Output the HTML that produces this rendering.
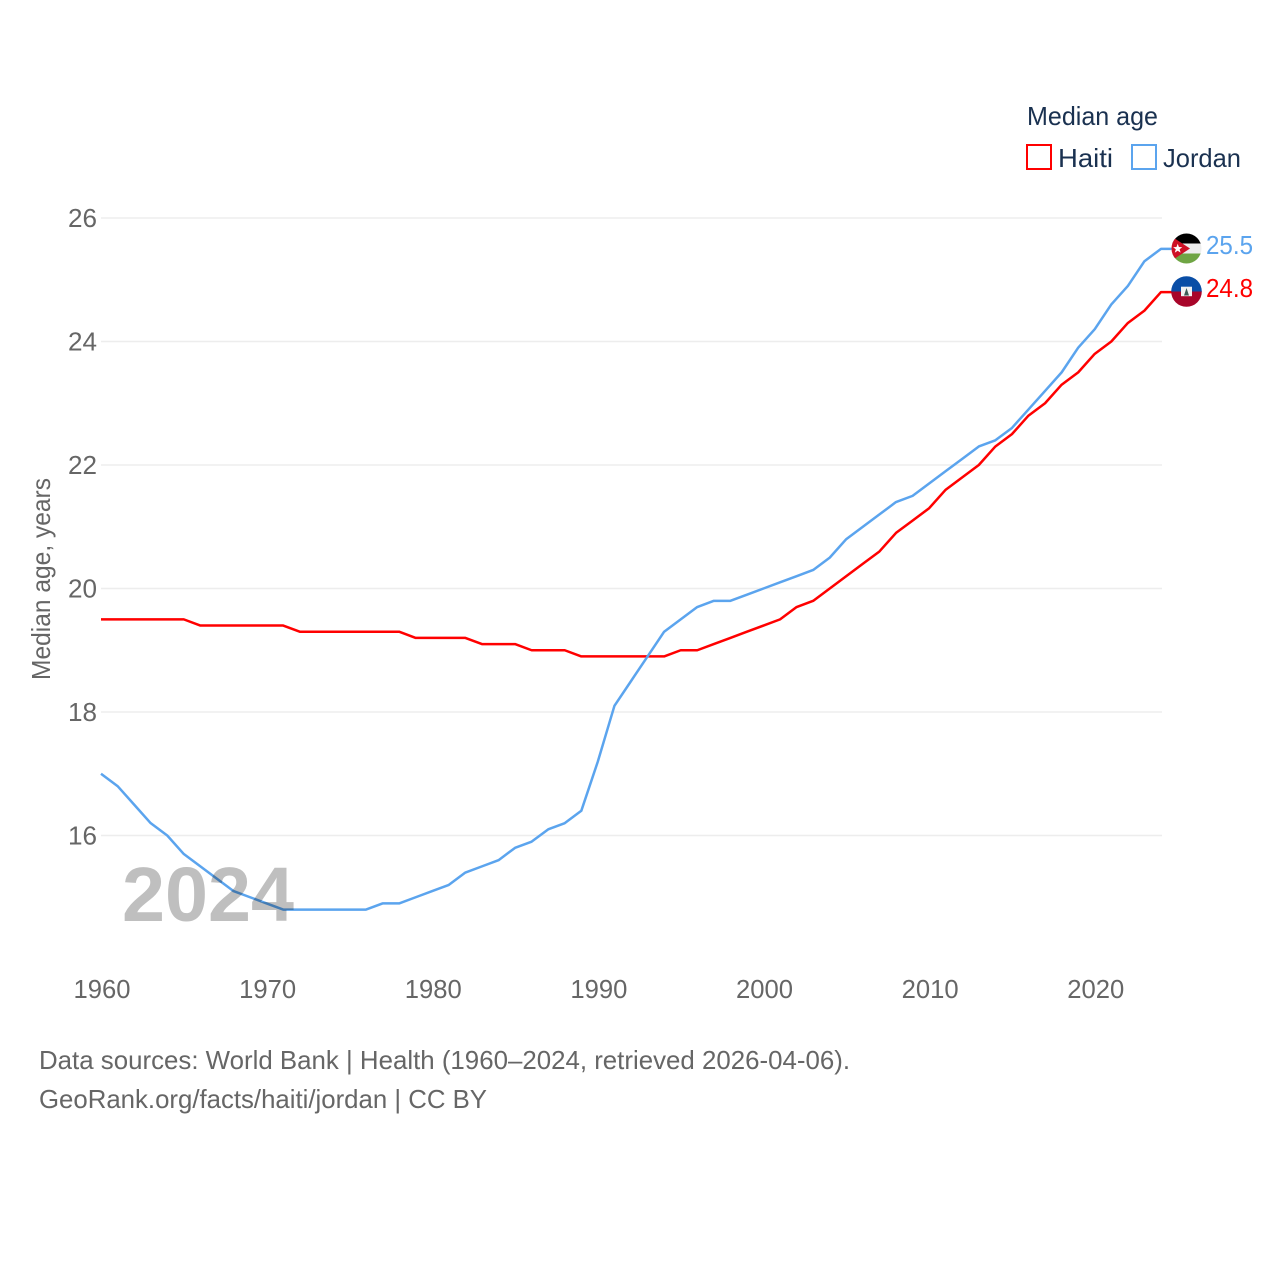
<!DOCTYPE html>
<html lang="en">
<head>
<meta charset="utf-8">
<title>Median age: Haiti and Jordan</title>
<style>
html,body{margin:0;padding:0;background:#fff;width:1280px;height:1280px;overflow:hidden}
svg{display:block}
text{font-family:"Liberation Sans",sans-serif}
.tick{font-size:26px;fill:#666}
.foot{font-size:26px;fill:#666}
.leg{font-size:26px;fill:#1a3150}
</style>
</head>
<body>
<svg id="chart" xmlns="http://www.w3.org/2000/svg" width="1280" height="1280" viewBox="0 0 1280 1280">
  <defs>
    <clipPath id="clip-jordan"><circle cx="1186.5" cy="248.5" r="15"/></clipPath>
    <clipPath id="clip-haiti"><circle cx="1186.5" cy="291.5" r="15.3"/></clipPath>
  </defs>
  <rect x="0" y="0" width="1280" height="1280" fill="#fff"/>
  <g id="grid"></g>
  <g id="yticks"></g>
  <g id="xticks"></g>
  <text class="tick" transform="translate(50,680) rotate(-90)" textLength="202" lengthAdjust="spacingAndGlyphs">Median age, years</text>
  <g id="series"></g>
  <text x="122" y="921" font-size="77" font-weight="700" fill="#bfbfbf" style="mix-blend-mode:multiply" textLength="172" lengthAdjust="spacingAndGlyphs">2024</text>

  <g clip-path="url(#clip-jordan)">
    <rect x="1171" y="233" width="31" height="11" fill="#000"/>
    <rect x="1171" y="243.5" width="31" height="10.5" fill="#eeeeee"/>
    <rect x="1171" y="253.5" width="31" height="11" fill="#6fa544"/>
    <path d="M1171 236 L1171 261 L1190 248.5 Z" fill="#ce1126"/>
    <path d="M1177.7 243.8 L1178.9 247 L1182.3 247.2 L1179.6 249.3 L1180.6 252.6 L1177.7 250.7 L1174.8 252.6 L1175.8 249.3 L1173.1 247.2 L1176.5 247 Z" fill="#fff"/>
  </g>
  <g clip-path="url(#clip-haiti)">
    <rect x="1171" y="276" width="31" height="15.7" fill="#0a4ea6"/>
    <rect x="1171" y="291.5" width="31" height="16" fill="#a8052a"/>
    <rect x="1181" y="286.7" width="11" height="9.5" fill="#f2f2f2"/>
    <path d="M1184 295.5 L1186.5 288 L1189 295.5 Z" fill="#3d5a55"/>
  </g>

  <text id="value-jordan" x="1206" y="254" font-size="26" fill="#5ba4ee" textLength="47" lengthAdjust="spacingAndGlyphs">25.5</text>
  <text id="value-haiti" x="1206" y="297" font-size="26" fill="#ff0000" textLength="47" lengthAdjust="spacingAndGlyphs">24.8</text>

  <g>
    <text class="leg" x="1027" y="125" textLength="131" lengthAdjust="spacingAndGlyphs">Median age</text>
    <g>
      <rect x="1027" y="145" width="24" height="24" fill="none" stroke="#ff0000" stroke-width="2"/>
      <text class="leg" x="1058" y="167" textLength="55" lengthAdjust="spacingAndGlyphs">Haiti</text>
    </g>
    <g>
      <rect x="1132" y="145" width="24" height="24" fill="none" stroke="#5ba4ee" stroke-width="2"/>
      <text class="leg" x="1163" y="167" textLength="78" lengthAdjust="spacingAndGlyphs">Jordan</text>
    </g>
  </g>

  <text class="foot" x="39" y="1069" textLength="811" lengthAdjust="spacingAndGlyphs">Data sources: World Bank | Health (1960–2024, retrieved 2026-04-06).</text>
  <text class="foot" x="39" y="1108" textLength="448" lengthAdjust="spacingAndGlyphs">GeoRank.org/facts/haiti/jordan | CC BY</text>
</svg>
<script>
var years = [1960,1961,1962,1963,1964,1965,1966,1967,1968,1969,1970,1971,1972,1973,1974,1975,1976,1977,1978,1979,1980,1981,1982,1983,1984,1985,1986,1987,1988,1989,1990,1991,1992,1993,1994,1995,1996,1997,1998,1999,2000,2001,2002,2003,2004,2005,2006,2007,2008,2009,2010,2011,2012,2013,2014,2015,2016,2017,2018,2019,2020,2021,2022,2023,2024];
var haiti = [19.5,19.5,19.5,19.5,19.5,19.5,19.4,19.4,19.4,19.4,19.4,19.4,19.3,19.3,19.3,19.3,19.3,19.3,19.3,19.2,19.2,19.2,19.2,19.1,19.1,19.1,19.0,19.0,19.0,18.9,18.9,18.9,18.9,18.9,18.9,19.0,19.0,19.1,19.2,19.3,19.4,19.5,19.7,19.8,20.0,20.2,20.4,20.6,20.9,21.1,21.3,21.6,21.8,22.0,22.3,22.5,22.8,23.0,23.3,23.5,23.8,24.0,24.3,24.5,24.8];
var jordan = [17.0,16.8,16.5,16.2,16.0,15.7,15.5,15.3,15.1,15.0,14.9,14.8,14.8,14.8,14.8,14.8,14.8,14.9,14.9,15.0,15.1,15.2,15.4,15.5,15.6,15.8,15.9,16.1,16.2,16.4,17.2,18.1,18.5,18.9,19.3,19.5,19.7,19.8,19.8,19.9,20.0,20.1,20.2,20.3,20.5,20.8,21.0,21.2,21.4,21.5,21.7,21.9,22.1,22.3,22.4,22.6,22.9,23.2,23.5,23.9,24.2,24.6,24.9,25.3,25.5];
var yTickValues = [16,18,20,22,24,26];
var xTickValues = [1960,1970,1980,1990,2000,2010,2020];

var NS = 'http://www.w3.org/2000/svg';
function x(year){ return 101 + (year - 1960) * (1161 - 101) / 64; }
function y(value){ return 835.5 - (value - 16) * 61.75; }
function make(tag, parent){
  var el = document.createElementNS(NS, tag);
  parent.appendChild(el);
  return el;
}

var grid = document.getElementById('grid');
var yticks = document.getElementById('yticks');
var xticks = document.getElementById('xticks');
var series = document.getElementById('series');

yTickValues.forEach(function(v){
  var line = make('line', grid);
  
  
  line.setAttribute('x1', 101);
  line.setAttribute('x2', 1162);
  line.setAttribute('y1', y(v));
  line.setAttribute('y2', y(v));
  line.setAttribute('stroke', '#ededed');
  line.setAttribute('stroke-width', '1.5');
  var t = make('text', yticks);
  
  
  t.setAttribute('class', 'tick');
  t.setAttribute('x', 68);
  t.setAttribute('y', y(v) + 9);
  t.setAttribute('textLength', '29');
  t.setAttribute('lengthAdjust', 'spacingAndGlyphs');
  t.textContent = String(v);
});

xTickValues.forEach(function(v){
  var t = make('text', xticks);
  
  
  t.setAttribute('class', 'tick');
  t.setAttribute('x', x(v) - 27.5);
  t.setAttribute('y', 998);
  t.setAttribute('textLength', '57');
  t.setAttribute('lengthAdjust', 'spacingAndGlyphs');
  t.textContent = String(v);
});

function drawSeries(values, color, name){
  var pts = values.map(function(v, i){ return x(years[i]).toFixed(2) + ',' + y(v).toFixed(2); });
  var last = values[values.length - 1];
  pts.push('1172,' + y(last).toFixed(2));
  var line = make('polyline', series);
  
  
  line.setAttribute('points', pts.join(' '));
  line.setAttribute('fill', 'none');
  line.setAttribute('stroke', color);
  line.setAttribute('stroke-width', '2.5');
  line.setAttribute('stroke-linejoin', 'round');
}
drawSeries(haiti, '#ff0000', 'haiti-line');
drawSeries(jordan, '#5ba4ee', 'jordan-line');
</script>
</body>
</html>
